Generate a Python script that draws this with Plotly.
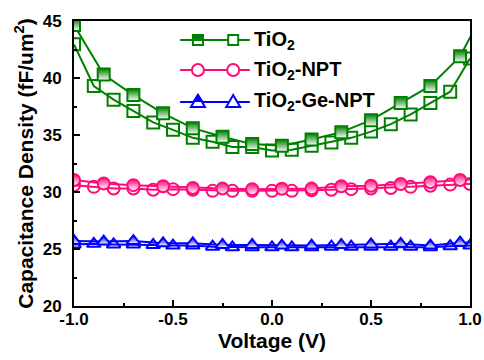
import plotly.graph_objects as go

# ---- data ----
v_fwd = [-1.0, -0.85, -0.7, -0.55, -0.4, -0.25, -0.1, 0.05, 0.2, 0.35, 0.5, 0.65, 0.8, 0.95, 1.1]
v_rev = [-1.0, -0.9, -0.8, -0.7, -0.6, -0.5, -0.4, -0.3, -0.2, -0.1, 0.0,
         0.1, 0.2, 0.3, 0.4, 0.5, 0.6, 0.7, 0.8, 0.9, 1.0]

tio2_fwd = [44.65, 40.3, 38.5, 36.9, 35.6, 34.85, 34.2, 34.05, 34.6, 35.25, 36.3, 37.8, 39.3, 41.9, 46.8]
tio2_rev = [42.95, 39.3, 38.1, 37.1, 36.1, 35.45, 34.75, 34.4, 33.95, 33.95, 33.65,
            33.7, 34.05, 34.35, 34.75, 35.3, 35.95, 36.8, 37.8, 38.8, 41.7]

npt_fwd = [31.05, 30.75, 30.6, 30.5, 30.35, 30.3, 30.25, 30.28, 30.3, 30.5, 30.55, 30.7, 30.85, 31.05, 31.2]
npt_rev = [30.6, 30.45, 30.3, 30.3, 30.2, 30.25, 30.2, 30.1, 30.1, 30.1, 30.1,
           30.1, 30.15, 30.2, 30.25, 30.3, 30.35, 30.45, 30.55, 30.65, 30.7]

ge_fwd = [25.7, 25.65, 25.7, 25.5, 25.5, 25.35, 25.35, 25.3, 25.3, 25.35, 25.4, 25.45, 25.3, 25.55, 25.6]
ge_rev = [25.4, 25.45, 25.4, 25.4, 25.35, 25.3, 25.3, 25.2, 25.15, 25.15, 25.15,
          25.15, 25.15, 25.2, 25.2, 25.2, 25.2, 25.2, 25.15, 25.25, 25.3]

labels = ["TiO<sub>2</sub>", "TiO<sub>2</sub>-NPT", "TiO<sub>2</sub>-Ge-NPT"]
colors = ["#008000", "#FF0A78", "#0000FF"]
symbols = ["square", "circle", "triangle-up"]

x_ticks = [-1.0, -0.5, 0.0, 0.5, 1.0]
x_ticktext = ["-1.0", "-0.5", "0.0", "0.5", "1.0"]
y_ticks = [20, 25, 30, 35, 40, 45]

FONT = "Arial, Liberation Sans"

fig = go.Figure()

series = [(tio2_fwd, tio2_rev), (npt_fwd, npt_rev), (ge_fwd, ge_rev)]
for (fwd, rev), col, sym in zip(series, colors, symbols):
    fig.add_trace(go.Scatter(
        x=v_rev, y=rev, mode="lines+markers",
        line=dict(color=col, width=2),
        marker=dict(symbol=sym + "-open", size=12, color=col, line=dict(width=2, color=col)),
        showlegend=False))
    fig.add_trace(go.Scatter(
        x=v_fwd, y=fwd, mode="lines+markers",
        line=dict(color=col, width=2),
        marker=dict(symbol=sym, size=12, color=col, line=dict(width=2, color=col),
                    gradient=dict(type="vertical", color="white")),
        showlegend=False))

# ---- manual legend (layout decoration) ----
shapes = []
annotations = []
rows = [0.933, 0.828, 0.716]
for lab, col, sym, ry in zip(labels, colors, symbols, rows):
    shapes.append(dict(type="line", xref="paper", yref="paper", x0=0.268, x1=0.444, y0=ry, y1=ry,
                       line=dict(color=col, width=2)))
    for cx, filled in [(0.313, True), (0.402, False)]:
        common = dict(xref="paper", yref="paper", xsizemode="pixel", ysizemode="pixel",
                      xanchor=cx, yanchor=ry)
        if sym == "square":
            shapes.append(dict(type="rect", x0=-5, x1=5, y0=-5, y1=5, fillcolor="white",
                               line=dict(color=col, width=2), **common))
            if filled:
                shapes.append(dict(type="rect", x0=-5, x1=5, y0=0, y1=5, fillcolor=col,
                                   line=dict(color=col, width=2), **common))
        elif sym == "circle":
            shapes.append(dict(type="circle", x0=-6, x1=6, y0=-6, y1=6, fillcolor="white",
                               line=dict(color=col, width=2), **common))
            if filled:
                shapes.append(dict(type="path", path="M -6 0 A 6 6 0 0 1 6 0 Z", fillcolor=col,
                                   line=dict(color=col, width=2), **common))
        else:
            shapes.append(dict(type="path", path="M -7 -5 L 7 -5 L 0 7 Z", fillcolor="white",
                               line=dict(color=col, width=2), **common))
            if filled:
                shapes.append(dict(type="path", path="M -4 1 L 4 1 L 0 7 Z", fillcolor=col,
                                   line=dict(color=col, width=2), **common))
    annotations.append(dict(xref="paper", yref="paper", x=0.45, y=ry, xanchor="left", yanchor="middle",
                            text=lab, showarrow=False,
                            font=dict(family=FONT, size=20, color="black", weight="bold")))

axis_font = dict(family=FONT, size=17, color="black", weight="bold")

fig.update_layout(
    width=484, height=360,
    margin=dict(l=74, r=14, t=21, b=54),
    paper_bgcolor="white", plot_bgcolor="white",
    shapes=shapes, annotations=annotations,
    xaxis=dict(range=[-1.0, 1.0], tickvals=x_ticks, ticktext=x_ticktext, automargin=False,
               ticks="inside", ticklen=6, tickwidth=2, tickcolor="black",
               minor=dict(dtick=0.25, ticks="inside", ticklen=3, tickwidth=1.5, tickcolor="black"),
               showline=True, linewidth=2, linecolor="black", mirror=True,
               showgrid=False, zeroline=False, tickfont=axis_font, ticklabelstandoff=-3,
               title=dict(text="Voltage (V)", font=dict(family=FONT, size=21,
                                                        color="black", weight="bold"), standoff=5)),
    yaxis=dict(range=[20, 45], tickvals=y_ticks, automargin=False,
               ticks="inside", ticklen=6, tickwidth=2, tickcolor="black",
               minor=dict(dtick=2.5, ticks="inside", ticklen=3, tickwidth=1.5, tickcolor="black"),
               showline=True, linewidth=2, linecolor="black", mirror=True,
               showgrid=False, zeroline=False, tickfont=axis_font, ticklabelstandoff=7,
               title=dict(text="Capacitance Density (fF/um<sup>2</sup>)",
                          font=dict(family=FONT, size=21, color="black", weight="bold"),
                          standoff=3)),
)

fig.write_html("out.html", config={"displayModeBar": False},
               post_script="document.body.style.margin='0';document.body.style.padding='0';")
